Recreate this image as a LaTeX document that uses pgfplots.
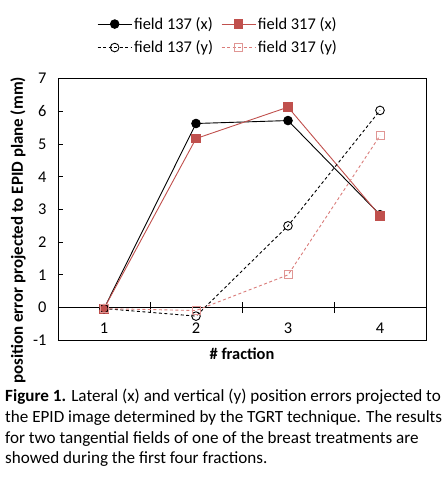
\documentclass[border=0pt]{standalone}
\usepackage{fontspec}
\setmainfont{Carlito}
\usepackage{pgfplots}
\pgfplotsset{compat=1.18}
\definecolor{exred}{HTML}{C0504D}
\definecolor{exredl}{RGB}{218,124,122}
\definecolor{exredm}{RGB}{224,150,148}
\newcommand{\fs}{\fontsize{16.4}{19}\selectfont}
\begin{document}
\begin{tikzpicture}[x=1pt,y=1pt]
\useasboundingbox (0,0) rectangle (447,477);
\begin{axis}[
  at={(58pt,136.7pt)}, anchor=south west,
  scale only axis, width=368pt, height=261.6pt,
  xmin=0.5, xmax=4.5, ymin=-1, ymax=7,
  axis x line=middle, axis y line=left,
  axis line style={-, line width=0.9pt},
  xtick={1,2,3,4}, xticklabels={1,2,3,4},
  x tick style={draw=none},
  extra x ticks={1.5,2.5,3.5}, extra x tick labels={},
  extra x tick style={x tick style={draw=black, line width=0.9pt}, major tick length=11pt, tick align=center},
  ytick={-1,0,1,2,3,4,5,6,7},
  y tick style={draw=black, line width=0.9pt},
  ytick align=inside, major tick length=5pt,
  /pgf/number format/assume math mode=true,
  tick label style={font=\fs},
  yticklabel style={anchor=east, xshift=-8pt},
  xticklabel style={yshift=-9pt},
  xlabel={\textbf{\# fraction}},
  ylabel={\textbf{position error projected to EPID plane (mm)}},
  every axis x label/.style={at={(rel axis cs:0.5,0)}, anchor=north, yshift=-4pt, font=\fs},
  every axis y label/.style={at={(rel axis cs:0,0.42)}, xshift=-40pt, rotate=90, anchor=center, font=\fontsize{16.9}{20}\selectfont},
  legend columns=2,
  legend style={at={(rel axis cs:0.435,1.164)}, anchor=center, draw=none, fill=none, font=\fs,
    /tikz/every even column/.append style={column sep=6pt},
    row sep=6pt, inner sep=0pt},
  legend cell align=left,
  legend image code/.code={\draw[mark repeat=2,mark phase=2] plot coordinates {(0pt,0pt)(17pt,0pt)(34pt,0pt)};},
  clip=false,
]
\draw[line width=0.9pt] (rel axis cs:0,0) rectangle (rel axis cs:1,1);
\addplot[black, line width=0.9pt, mark=*, mark size=4.3pt, mark options={solid, fill=black}]
  coordinates {(1,-0.03) (2,5.63) (3,5.72) (4,2.84)};
\addlegendentry{field 137 (x)}
\addplot[exred, line width=0.9pt, mark=square*, mark size=4.4pt, mark options={solid, fill=exred, draw=exred}]
  coordinates {(1,-0.03) (2,5.17) (3,6.13) (4,2.81)};
\addlegendentry{field 317 (x)}
\addplot[black, line width=0.9pt, dash pattern=on 3pt off 2.5pt, mark=o, mark size=4.3pt, mark options={solid, fill=white, draw=black}]
  coordinates {(1,-0.03) (2,-0.26) (3,2.50) (4,6.03)};
\addlegendentry{field 137 (y)}
\addplot[exredl, line width=0.9pt, dash pattern=on 3pt off 2.5pt, mark=square, mark size=4pt, mark options={solid, fill=white, draw=exredm}]
  coordinates {(1,-0.03) (2,-0.09) (3,1.00) (4,5.26)};
\addlegendentry{field 317 (y)}
\end{axis}
\node[anchor=base west, align=left, inner sep=0pt, font=\fontsize{17.1}{20.7}\selectfont] at (5,13)
{\textbf{Figure 1.} Lateral (x) and vertical (y) position errors projected to\\
the EPID image determined by the TGRT technique. The results\\
for two tangential fields of one of the breast treatments are\\
showed during the first four fractions.};
\end{tikzpicture}
\end{document}
